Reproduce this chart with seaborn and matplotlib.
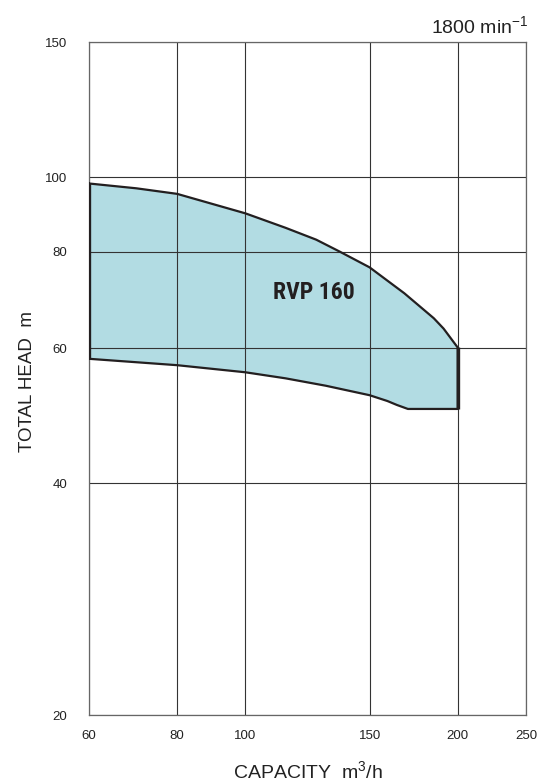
import numpy as np
import pandas as pd
import matplotlib
matplotlib.use("Agg")
import matplotlib.pyplot as plt
import seaborn as sns
from matplotlib import font_manager

# ---- data ----
upper_capacity = [60, 70, 80, 100, 114, 126, 136, 150, 168, 185, 191, 200]
upper_head = [98.2, 96.8, 95.2, 89.8, 86.0, 83.0, 80.1, 76.4, 70.7, 65.6, 63.6, 60.1]
lower_capacity = [60, 80, 100, 114, 130, 150, 159, 164, 170, 200]
lower_head = [58.1, 57.0, 55.8, 54.8, 53.6, 52.1, 51.2, 50.6, 50.0, 50.0]
x_ticks = [60, 80, 100, 150, 200, 250]
y_ticks = [20, 40, 60, 80, 100, 150]
model_label = "RVP 160"
speed_label = "1800 min$^{-1}$"
x_label = "CAPACITY  m$^3$/h"
y_label = "TOTAL HEAD  m"

sns.set_theme(style="white")
plt.rcParams['font.family'] = ['Liberation Sans', 'DejaVu Sans']
plt.rcParams['mathtext.fontset'] = 'custom'
plt.rcParams['mathtext.rm'] = 'Liberation Sans'
plt.rcParams['mathtext.it'] = 'Liberation Sans'
plt.rcParams['mathtext.bf'] = 'Liberation Sans:bold'

# pick a condensed bold family if one is installed
names = {f.name for f in font_manager.fontManager.ttflist}
label_font = dict(family='Liberation Sans', size=14.5)
for cand in ['Liberation Sans Narrow', 'Roboto Condensed', 'Open Sans Condensed', 'Noto Sans Condensed']:
    if cand in names:
        label_font = dict(family=cand, size=17)
        break

# boundary polygon: upper curve, right edge down, lower curve back
cap = list(upper_capacity) + list(lower_capacity[::-1])
head = list(upper_head) + list(lower_head[::-1])
df = pd.DataFrame({"capacity": cap + [cap[0]], "head": head + [head[0]]})

fig = plt.figure(figsize=(5.38, 7.83), dpi=100)
ax = fig.add_axes([89/538, (783-715)/783, 437/538, 673/783])
ax.set_xscale('log')
ax.set_yscale('log')
ax.set_xlim(60, 250)
ax.set_ylim(20, 150)

ax.fill(df["capacity"], df["head"], color="#b2dce3", zorder=2, lw=0)
sns.lineplot(data=df, x="capacity", y="head", sort=False, estimator=None,
             color="#231f20", lw=1.6, ax=ax, zorder=4)
# thicker vertical edges
ax.vlines([upper_capacity[0]], lower_head[0], upper_head[0], color="#231f20", lw=2.4, zorder=5)
ax.vlines([upper_capacity[-1]], lower_head[-1], upper_head[-1], color="#231f20", lw=2.4, zorder=5)

ax.set_xticks(x_ticks)
ax.set_yticks(y_ticks)
ax.set_xticklabels([str(v) for v in x_ticks])
ax.set_yticklabels([str(v) for v in y_ticks])
ax.xaxis.set_minor_locator(matplotlib.ticker.NullLocator())
ax.yaxis.set_minor_locator(matplotlib.ticker.NullLocator())
ax.tick_params(axis='x', length=0, pad=11, labelsize=9.5, colors="#222222")
ax.tick_params(axis='y', length=0, pad=15.5, labelsize=9.5, colors="#222222")

ax.grid(True, which='major', color="#333333", lw=0.8, zorder=3)
ax.set_axisbelow(False)
for s in ax.spines.values():
    s.set_color("#666666")
    s.set_linewidth(0.9)
    s.set_zorder(3)

ax.set_xlabel(x_label, fontsize=14, color="#222222", va='baseline')
ax.xaxis.set_label_coords(0.5, (715-778)/673)
ax.set_ylabel(y_label, fontsize=13.5, color="#222222", va='center', ha='center')
ax.yaxis.set_label_coords((27-89)/437, (715-382)/673)

ax.text(1.005, (715-26)/673, speed_label, transform=ax.transAxes, ha='right', va='center',
        fontsize=14, color="#222222")

ax.text(125, 70.8, model_label, ha='center', va='center', fontsize=label_font['size'],
        fontweight='bold', family=label_font['family'], color="#231f20", zorder=6)

fig.savefig("out.png", dpi=100)
